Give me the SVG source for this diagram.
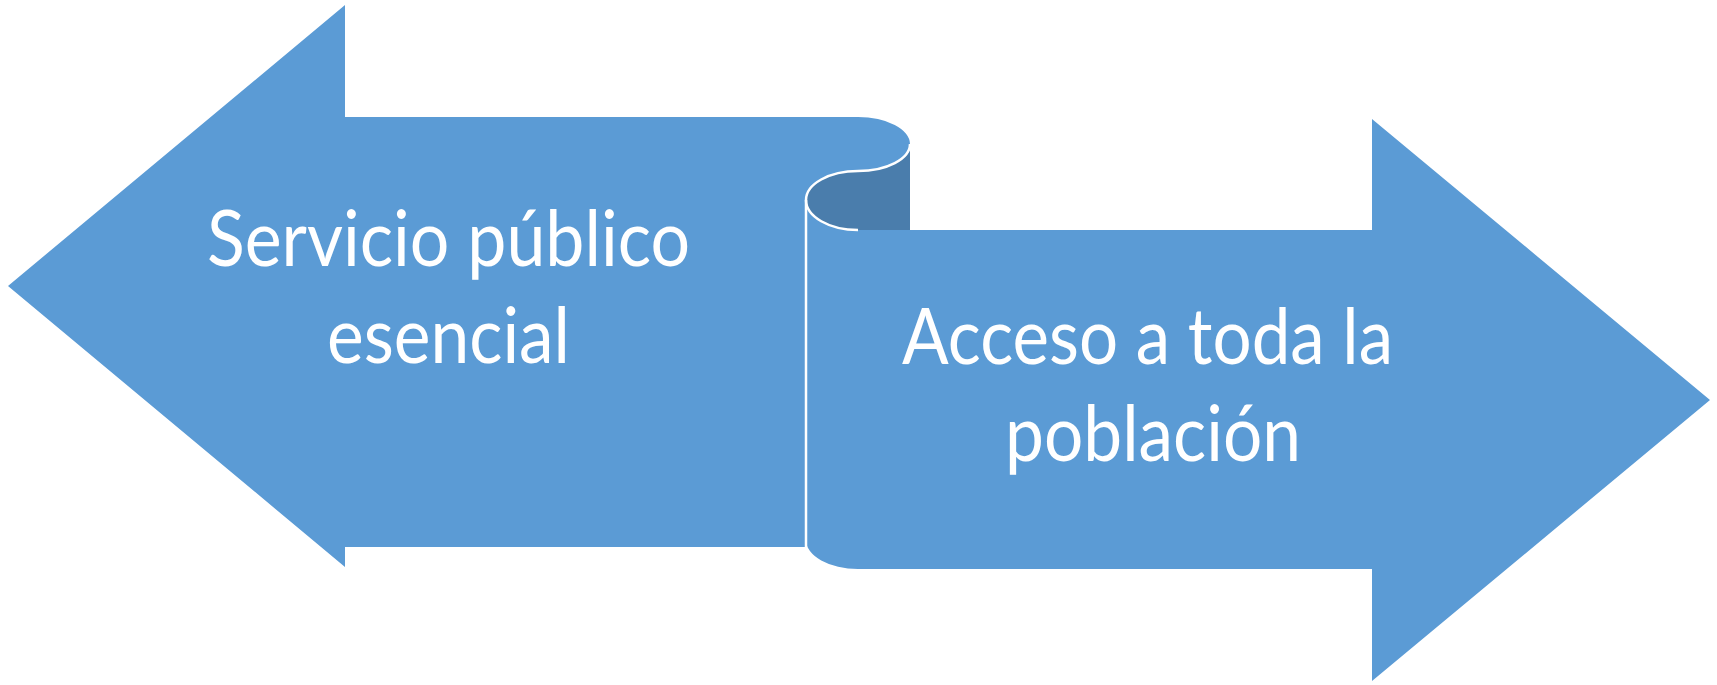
<svg xmlns="http://www.w3.org/2000/svg" width="1717" height="685" viewBox="0 0 1717 685">
<style>
.fill{fill:#5B9BD5}
.dark{fill:#4A7DAC}
.edge{fill:none;stroke:#FFFFFF;stroke-width:2.5}
.lbl{font-family:Lato,"Open Sans",sans-serif;font-size:77px;fill:#FFFFFF;text-anchor:middle}
</style>
<rect width="1717" height="685" fill="#FFFFFF"/>
<g id="ribbon">
<path class="fill" d="M8,286 L345,5 L345,117 L858,117 A52,27 0 0 1 910,144 L910,230 L806,230 L806,547 L345,547 L345,567 Z"/>
<path class="dark" d="M910,144 L910,230 L858,230 A52,30 0 0 1 806,200 A52,29 0 0 1 858,171 A52,27 0 0 0 910,144 Z"/>
<path class="fill" d="M806,200 A52,30 0 0 0 858,230 L1372,230 L1372,119 L1710,400 L1372,681 L1372,569 L858,569 A52,29 0 0 1 806,540 Z"/>
<path class="edge" d="M910,144 A52,27 0 0 1 858,171 A52,29 0 0 0 806,200 A52,30 0 0 0 858,230"/>
<path class="edge" d="M806,200 L806,547"/>
</g>
<g id="node-left">
<text class="lbl" x="448.5" y="266" textLength="483" lengthAdjust="spacingAndGlyphs">Servicio público</text>
<text class="lbl" x="448.5" y="363" textLength="243" lengthAdjust="spacingAndGlyphs">esencial</text>
</g>
<g id="node-right">
<text class="lbl" x="1147.5" y="364" textLength="491" lengthAdjust="spacingAndGlyphs">Acceso a toda la</text>
<text class="lbl" x="1153" y="461" textLength="296" lengthAdjust="spacingAndGlyphs">población</text>
</g>
<g id="connectors"></g>
</svg>
